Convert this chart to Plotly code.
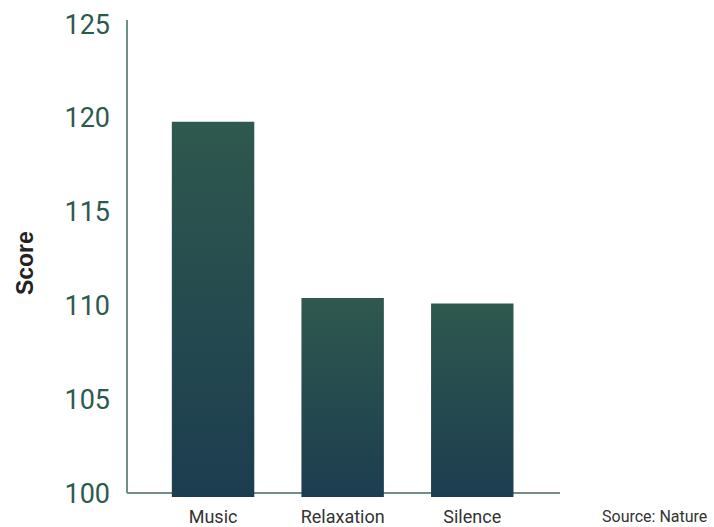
import plotly.graph_objects as go

# Scores by condition
categories = ["Music", "Relaxation", "Silence"]
scores = [119.8, 110.4, 110.1]
y_ticks = [100, 105, 110, 115, 120, 125]

Y_MIN, Y_MAX = 99.79, 125.22
BAR_HALF = 0.318
TOP_COLOR = "rgb(47,88,78)"
BOTTOM_COLOR = "rgb(28,61,80)"

fig = go.Figure()

# Each bar is a filled rectangle with a vertical gradient (dark blue at the
# base fading to green at the top).
for i, (cat, val) in enumerate(zip(categories, scores)):
    xs = [i - BAR_HALF, i + BAR_HALF, i + BAR_HALF, i - BAR_HALF, i - BAR_HALF]
    ys = [Y_MIN, Y_MIN, val, val, Y_MIN]
    fig.add_trace(go.Scatter(
        x=xs, y=ys, mode="lines", fill="toself",
        line=dict(width=0),
        fillgradient=dict(type="vertical",
                          colorscale=[[0, BOTTOM_COLOR], [1, TOP_COLOR]]),
        hoverinfo="skip", showlegend=False, name=cat,
    ))

axis_color = "#6e8f8a"
# Axis lines meeting at the 100 baseline
fig.add_shape(type="line", xref="paper", yref="y", x0=0, x1=1, y0=100, y1=100,
              line=dict(color=axis_color, width=2), layer="below")
fig.add_shape(type="line", xref="paper", yref="y", x0=0, x1=0, y0=100, y1=Y_MAX,
              line=dict(color=axis_color, width=2), layer="below")

fig.update_layout(
    width=714, height=527,
    margin=dict(l=127, r=154, t=20, b=30),
    plot_bgcolor="white", paper_bgcolor="white",
    xaxis=dict(
        range=[-0.664, 2.677],
        tickmode="array", tickvals=list(range(len(categories))),
        ticktext=categories, automargin=False,
        showgrid=False, zeroline=False, showline=False,
        ticks="", ticklabelstandoff=7,
        tickfont=dict(family="Roboto", size=18, color="#333333"),
    ),
    yaxis=dict(
        range=[Y_MIN, Y_MAX], automargin=False,
        tickmode="array", tickvals=y_ticks,
        showgrid=False, zeroline=False, showline=False,
        ticks="", ticklabelstandoff=16,
        tickfont=dict(family="Roboto", size=27, color="#2d5a50"),
    ),
    annotations=[
        dict(text="<b>Score</b>", xref="paper", yref="paper",
             x=-0.236, y=0.49, textangle=-90, showarrow=False,
             xanchor="center", yanchor="middle",
             font=dict(family="Liberation Sans", size=23, color="#222222")),
        dict(text="Source: Nature", xref="paper", yref="paper",
             x=1.092, y=-0.04, showarrow=False,
             xanchor="left", yanchor="middle",
             font=dict(family="Roboto", size=16, color="#333333")),
    ],
)

fig.write_html("out.html")
